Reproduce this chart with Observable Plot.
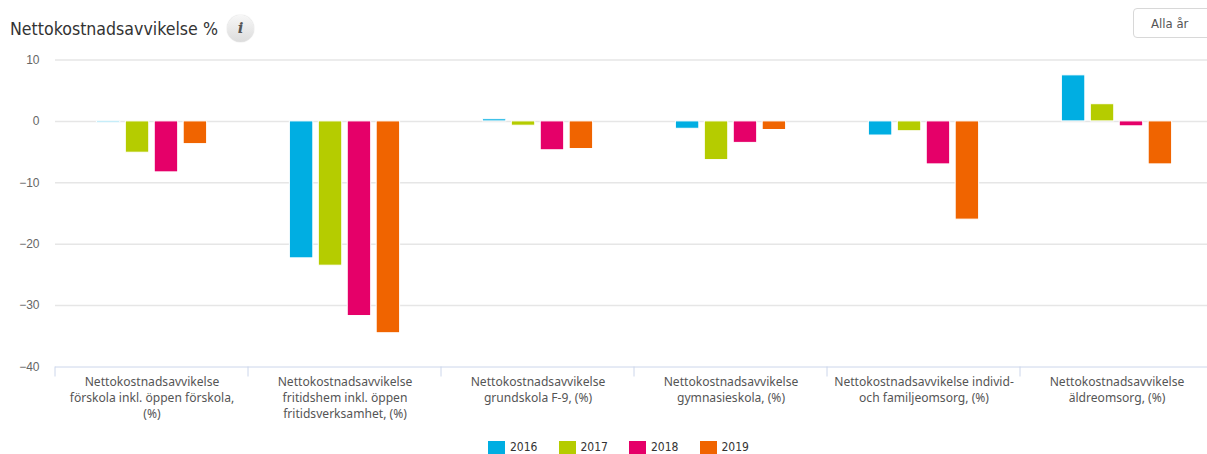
<!DOCTYPE html>
<html><head><meta charset="utf-8">
<script src="https://cdn.jsdelivr.net/npm/d3@7"></script>
<script src="https://cdn.jsdelivr.net/npm/@observablehq/plot@0.6"></script>
<style>
html,body{margin:0;padding:0;background:#fff;width:1207px;height:454px;overflow:hidden;font-family:"DejaVu Sans Condensed","DejaVu Sans",sans-serif}
#wrap{position:relative;width:1207px;height:454px;overflow:hidden}
#title{position:absolute;left:10px;top:18px;font-size:17.6px;line-height:22px;color:#333;white-space:nowrap}
#info{position:absolute;left:227px;top:15px;width:27px;height:27px;border-radius:50%;background:linear-gradient(#f7f7f7,#dcdcdc);box-shadow:0 0 1px #aaa;text-align:center;font:italic bold 15px/27px "DejaVu Serif",serif;color:#555}
#btn{position:absolute;left:1133px;top:8px;width:80px;height:30px;box-sizing:border-box;border:1px solid #d8d8d8;border-radius:4px;font-size:13px;line-height:29px;color:#555;padding-left:17px}
#chart{position:absolute;left:0;top:50px;width:1213px}
#legend{position:absolute;left:488px;top:440px;display:flex;font-size:12px;line-height:15px;color:#333}
#legend span.i{display:flex;align-items:center;width:70.5px}
#legend i{display:block;width:17px;height:14px;margin-right:5px}
</style></head>
<body><div id="wrap">
<div id="title">Nettokostnadsavvikelse %</div><div id="info">i</div><div id="btn">Alla år</div>
<div id="chart"></div><div id="legend"></div>
</div>
<script>
const categories = [
  "Nettokostnadsavvikelse\nförskola inkl. öppen förskola,\n(%)",
  "Nettokostnadsavvikelse\nfritidshem inkl. öppen\nfritidsverksamhet, (%)",
  "Nettokostnadsavvikelse\ngrundskola F-9, (%)",
  "Nettokostnadsavvikelse\ngymnasieskola, (%)",
  "Nettokostnadsavvikelse individ-\noch familjeomsorg, (%)",
  "Nettokostnadsavvikelse\näldreomsorg, (%)"
];
const years = ["2016","2017","2018","2019"];
const colors = ["#00aee2","#b5cc00","#e50069","#f06400"];
const v2016 = [-0.2,-22.3,0.35,-1.2,-2.3,7.5];
const v2017 = [-5.1,-23.5,-0.7,-6.3,-1.6,2.8];
const v2018 = [-8.3,-31.7,-4.7,-3.5,-7.0,-0.8];
const v2019 = [-3.7,-34.5,-4.5,-1.4,-16.0,-7.0];
const yTicks = [10,0,-10,-20,-30,-40];
const series = [v2016,v2017,v2018,v2019];
const rows = years.flatMap((year,s)=>categories.map((category,c)=>({category,year,value:series[s][c]})));

const plot = Plot.plot({
  width:1213, height:385, marginLeft:55, marginRight:0, marginTop:9.5, marginBottom:68.5,
  style:{background:"transparent",overflow:"visible",maxWidth:"none"},
  fx:{domain:categories,padding:0,label:null},
  x:{domain:years,axis:null,round:false,paddingInner:0.19,paddingOuter:1.43},
  y:{domain:[-40,10],axis:null,label:null},
  color:{domain:years,range:colors},
  marks:[
    Plot.ruleY(yTicks.filter(d=>d!==-40),{stroke:"#e6e6e6",strokeWidth:1.5}),
    Plot.ruleY([-40],{stroke:"#ccd6eb",strokeWidth:1}),
    Plot.barY(rows,{fx:"category",x:"year",y:"value",fill:"year",stroke:"#fff",strokeWidth:1}),
    Plot.axisY({ticks:yTicks,anchor:"left",tickSize:0,tickPadding:16,fontSize:12,fontFamily:"Liberation Sans",color:"#666",label:null}),
    Plot.axisFx({anchor:"bottom",tickSize:0,tickPadding:8,fontSize:12.1,lineHeight:1.32,color:"#555",label:null})
  ]
});
document.getElementById("chart").append(plot);
// category-axis tick marks at the band edges, from the fx scale
const fx = plot.scale("fx");
const y = plot.scale("y");
const yBase = y.apply(-40);
d3.select(plot).append("g").selectAll("line").data(categories).join("line")
  .attr("x1",d=>fx.apply(d)).attr("x2",d=>fx.apply(d))
  .attr("y1",yBase).attr("y2",yBase+10).attr("stroke","#ccd6eb");
const lg = d3.select("#legend").selectAll("span").data(years).join("span").attr("class","i");
lg.append("i").style("background",(d,i)=>colors[i]);
lg.append("b").style("font-weight","normal").text(d=>d);
</script></body></html>
